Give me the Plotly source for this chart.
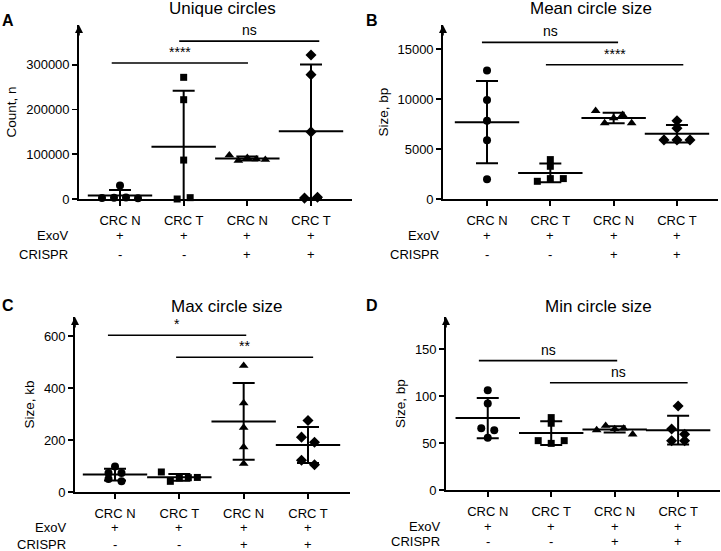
import plotly.graph_objects as go

W, H = 721, 551
FONT = "Liberation Sans, Arial, sans-serif"

# ---------------- data ----------------
categories = ["CRC N", "CRC T", "CRC N", "CRC T"]
exov_row = ["+", "+", "+", "+"]
crispr_row = ["-", "-", "+", "+"]
row_names = ["ExoV", "CRISPR"]

# A: unique circles (count)
unique_crc_n = [2500, 3000, 30000, 3500, 1500]
unique_crc_t = [272000, 222000, 87000, 0, 3000]
unique_crc_n_crispr = [98000, 86000, 92000, 89000, 88000]
unique_crc_t_crispr = [322000, 278000, 150000, 2000, 4000]

# B: mean circle size (bp)
mean_crc_n = [12860, 9890, 7820, 5880, 1970]
mean_crc_t = [3940, 3270, 1770, 2040, 2040]
mean_crc_n_crispr = [8820, 7590, 8090, 8420, 7590]
mean_crc_t_crispr = [7815, 7080, 5910, 5910, 5910]

# C: max circle size (kb)
max_crc_n = [98.5, 73, 73, 50, 41]
max_crc_t = [77, 41, 54, 55, 56]
max_crc_n_crispr = [486, 342, 248, 173, 109]
max_crc_t_crispr = [275, 211, 191, 122, 105]

# D: min circle size (bp)
min_crc_n = [106, 92, 65.6, 63.5, 55.7]
min_crc_t = [77, 71, 52.5, 49.6, 52.5]
min_crc_n_crispr = [63.8, 68.4, 65, 65.5, 59.2]
min_crc_t_crispr = [89.4, 64.9, 59.2, 52.4, 52.4]

# significance: (from group, to group, height, label)
sig_unique = [(-0.13, 2.01, 304000, "****"), (0.93, 3.13, 353000, "ns")]
sig_mean = [(-0.08, 2.07, 15660, "ns"), (0.93, 3.10, 13430, "****")]
sig_max = [(-0.11, 2.04, 603, "*"), (0.95, 3.08, 518, "**")]
sig_min = [(-0.14, 2.04, 137.6, "ns"), (0.98, 3.15, 114, "ns")]

yticks_unique = [0, 100000, 200000, 300000]
yticks_mean = [0, 5000, 10000, 15000]
yticks_max = [0, 200, 400, 600]
yticks_min = [0, 50, 100, 150]

# ---------------- layout config (pixels) ----------------
panels = [
    dict(letter="A", title="Unique circles", ytitle="Count, n",
         groups=[unique_crc_n, unique_crc_t, unique_crc_n_crispr, unique_crc_t_crispr],
         sig=sig_unique, yticks=yticks_unique, ytop=389000,
         px=(79, 352), py=(25, 199), xr=(-0.644, 3.644),
         letter_xy=(8, 21), title_xy=(223, 9), rowshift=-9, rows=(-36, -55)),
    dict(letter="B", title="Mean circle size", ytitle="Size, bp",
         groups=[mean_crc_n, mean_crc_t, mean_crc_n_crispr, mean_crc_t_crispr],
         sig=sig_mean, yticks=yticks_mean, ytop=17400,
         px=(443, 718), py=(25, 199), xr=(-0.695, 3.648),
         letter_xy=(372, 21), title_xy=(591, 9), rowshift=-2, rows=(-36, -55)),
    dict(letter="C", title="Max circle size", ytitle="Size, kb",
         groups=[max_crc_n, max_crc_t, max_crc_n_crispr, max_crc_t_crispr],
         sig=sig_max, yticks=yticks_max, ytop=673,
         px=(75, 350), py=(317, 492), xr=(-0.622, 3.653),
         letter_xy=(8, 305), title_xy=(226, 306), rowshift=-7, rows=(-35, -52)),
    dict(letter="D", title="Min circle size", ytitle="Size, bp",
         groups=[min_crc_n, min_crc_t, min_crc_n_crispr, min_crc_t_crispr],
         sig=sig_min, yticks=yticks_min, ytop=184,
         px=(446, 720), py=(317, 490), xr=(-0.658, 3.66),
         letter_xy=(372, 305), title_xy=(598, 306), rowshift=-4, rows=(-36, -51)),
]

symbols = ["circle", "square", "triangle-up", "diamond"]
sizes = [8, 7, 8.5, 8.5]


def mean_sd(v):
    n = len(v)
    m = sum(v) / n
    sd = (sum((x - m) ** 2 for x in v) / (n - 1)) ** 0.5
    return m, sd


def swarm_offsets(vals, px_per_val, spacing=13.0, maxhalf=18.0, thresh=5.5):
    """Row-based swarm: points close in y share a row and are spread horizontally (px)."""
    order = sorted(range(len(vals)), key=lambda i: vals[i])
    groups, cur = [], [order[0]]
    for a, b in zip(order, order[1:]):
        if (vals[b] - vals[a]) * px_per_val < thresh:
            cur.append(b)
        else:
            groups.append(cur)
            cur = [b]
    groups.append(cur)
    off = [0.0] * len(vals)
    for g in groups:
        g = sorted(g)
        n = len(g)
        if n == 1:
            continue
        step = min(spacing, 2 * maxhalf / (n - 1))
        for k, idx in enumerate(g):
            off[idx] = (k - (n - 1) / 2) * step
    return off


fig = go.Figure()
annotations = []
shapes = []

for pi, p in enumerate(panels):
    n = "" if pi == 0 else str(pi + 1)
    xa, ya = "x" + n, "y" + n
    xname, yname = "xaxis" + n, "yaxis" + n
    x0, x1 = p["px"]
    y0, y1 = p["py"]
    px_per_cat = (x1 - x0) / (p["xr"][1] - p["xr"][0])
    px_per_val = (y1 - y0) / p["ytop"]

    for gi, vals in enumerate(p["groups"]):
        m, sd = mean_sd(vals)
        # mean line + SD bars
        fig.add_trace(go.Scatter(
            x=[gi], y=[m], xaxis=xa, yaxis=ya, mode="markers",
            marker=dict(symbol="line-ew", size=46, color="black",
                        line=dict(width=2, color="black")),
            error_y=dict(type="data", array=[sd], visible=True, width=11,
                         thickness=2, color="black"),
            showlegend=False, hoverinfo="skip", cliponaxis=True))
        offs = swarm_offsets(vals, px_per_val)
        fig.add_trace(go.Scatter(
            x=[gi + o / px_per_cat for o in offs], y=vals, xaxis=xa, yaxis=ya,
            mode="markers",
            marker=dict(symbol=symbols[gi], size=sizes[gi], color="black",
                        line=dict(width=0)),
            showlegend=False, cliponaxis=False))

    fig.update_layout(**{
        xname: dict(domain=[x0 / W, x1 / W], range=list(p["xr"]), anchor=ya,
                    tickvals=list(range(len(categories))), ticktext=categories,
                    showline=True, linecolor="black", linewidth=1.8,
                    ticks="outside", ticklen=5, tickwidth=1.8, tickcolor="black",
                    showgrid=False, zeroline=False, ticklabelstandoff=4,
                    automargin=False,
                    tickfont=dict(family=FONT, size=13, color="black")),
        yname: dict(domain=[1 - y1 / H, 1 - y0 / H], range=[0, p["ytop"]], anchor=xa,
                    tickvals=p["yticks"], tickformat="d",
                    showline=True, linecolor="black", linewidth=1.8,
                    ticks="outside", ticklen=5, tickwidth=1.8, tickcolor="black",
                    showgrid=False, zeroline=False, automargin=False,
                    tickfont=dict(family=FONT, size=13, color="black"),
                    title=dict(text=p["ytitle"], standoff=6,
                               font=dict(family=FONT, size=13.5, color="black"))),
    })

    # arrow at top of y axis
    annotations.append(dict(xref=xa + " domain", yref=ya + " domain", x=0, y=1,
                            text="", showarrow=True, ax=0, ay=12, arrowhead=2,
                            arrowsize=1, arrowwidth=1.6, arrowcolor="black"))

    # significance bars
    for (a, b, h, lab) in p["sig"]:
        shapes.append(dict(type="line", xref=xa, yref=ya, x0=a, x1=b, y0=h, y1=h,
                           line=dict(color="black", width=1.6)))
        annotations.append(dict(xref=xa, yref=ya, x=(a + b) / 2, y=h, text=lab,
                                showarrow=False, yanchor="bottom", yshift=1,
                                font=dict(family=FONT, size=14, color="black")))

    # +/- rows under the axis
    for ri, row in enumerate([exov_row, crispr_row]):
        shift = p["rows"][ri]
        annotations.append(dict(xref=xa + " domain", yref=ya + " domain", x=0, y=0,
                                xanchor="right", yanchor="middle", xshift=p["rowshift"],
                                yshift=shift, text=row_names[ri], showarrow=False,
                                font=dict(family=FONT, size=13, color="black")))
        for ci, s in enumerate(row):
            annotations.append(dict(xref=xa, yref=ya + " domain", x=ci, y=0,
                                    yanchor="middle", yshift=shift, text=s,
                                    showarrow=False,
                                    font=dict(family=FONT, size=13, color="black")))

    # title and panel letter
    tx, ty = p["title_xy"]
    annotations.append(dict(xref="paper", yref="paper", x=tx / W, y=1 - ty / H,
                            xanchor="center", yanchor="middle", text=p["title"],
                            showarrow=False,
                            font=dict(family=FONT, size=17, color="black")))
    lx, ly = p["letter_xy"]
    annotations.append(dict(xref="paper", yref="paper", x=lx / W, y=1 - ly / H,
                            xanchor="center", yanchor="middle",
                            text="<b>" + p["letter"] + "</b>", showarrow=False,
                            font=dict(family=FONT, size=16, color="black")))

fig.update_layout(width=W, height=H, margin=dict(l=0, r=0, t=0, b=0),
                  paper_bgcolor="white", plot_bgcolor="white",
                  annotations=annotations, shapes=shapes,
                  font=dict(family=FONT, color="black"))

fig.write_html("out.html",
               config={"displayModeBar": False, "staticPlot": True},
               post_script="document.body.style.margin='0';"
                           "document.body.style.overflow='hidden';")
